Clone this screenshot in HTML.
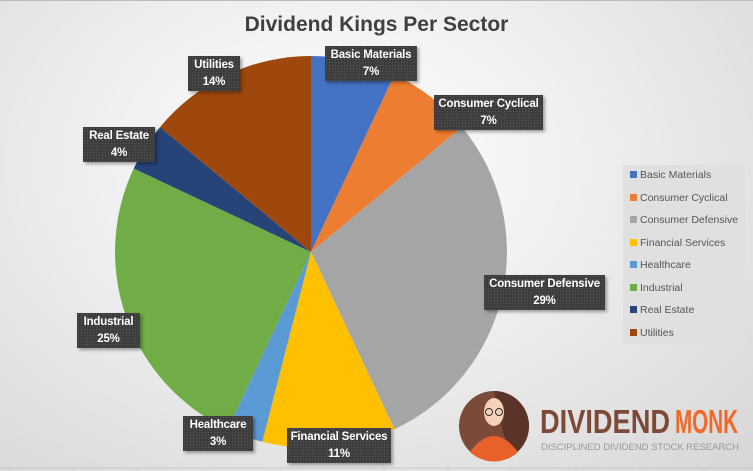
<!DOCTYPE html>
<html><head><meta charset="utf-8"><style>
html,body{margin:0;padding:0}
body{width:753px;height:471px;overflow:hidden;position:relative;font-family:"Liberation Sans",sans-serif;
background:radial-gradient(ellipse at 45% 35%,#ffffff 0%,#f0f0f0 40%,#d6d6d6 100%)}
.lbl{position:absolute;background:#3d3d3d;background-image:radial-gradient(#555 0.6px,transparent 0.8px);background-size:3px 3px;color:#fff;font-weight:bold;font-size:11.5px;letter-spacing:-0.2px;line-height:16.5px;text-align:center;box-shadow:2px 2px 3px rgba(0,0,0,.35);padding:1px 0}
.leg{position:absolute;left:623px;top:165px;width:122px;height:179px;background:#e0e0e0}
.it{position:absolute;left:7px;font-size:10.5px;color:#555;white-space:nowrap}
.it i{display:inline-block;width:7px;height:7px;margin-right:3px;vertical-align:0px}
</style></head><body>
<div style="position:absolute;left:0;top:0;width:753px;height:1px;background:#bbb"></div>
<div style="position:absolute;left:0;top:13px;width:753px;text-align:center;font-size:21px;font-weight:bold;color:#404040">Dividend Kings Per Sector</div>
<svg width="753" height="471" style="position:absolute;left:0;top:0" viewBox="0 0 753 471">
<g id="pie"></g>
<line x1="0" y1="468" x2="753" y2="468" stroke="#c8c8c8"/>
<g stroke="#c8c8c8"><line x1="10" y1="468" x2="10" y2="471"/><line x1="74" y1="468" x2="74" y2="471"/><line x1="138" y1="468" x2="138" y2="471"/><line x1="384" y1="468" x2="384" y2="471"/><line x1="448" y1="468" x2="448" y2="471"/><line x1="512" y1="468" x2="512" y2="471"/><line x1="576" y1="468" x2="576" y2="471"/><line x1="640" y1="468" x2="640" y2="471"/><line x1="704" y1="468" x2="704" y2="471"/></g>
<circle cx="494" cy="426" r="35" fill="#7b4a38"/>
<path d="M494 391 A35 35 0 0 1 529 426 A35 35 0 0 1 510 457 L500 420 Z" fill="#5c3328"/>
<path d="M470 452 Q494 420 518 452 A35 35 0 0 1 470 452Z" fill="#e8612a"/>
<ellipse cx="494" cy="412" rx="10" ry="14" fill="#f4d2b8"/>
<circle cx="489" cy="412" r="3.5" fill="none" stroke="#333" stroke-width="1"/><circle cx="499" cy="412" r="3.5" fill="none" stroke="#333" stroke-width="1"/>
<text x="540" y="433" font-family="Liberation Sans Narrow,Liberation Sans,sans-serif" font-size="33" font-weight="bold" fill="#7b4a38" textLength="130" lengthAdjust="spacingAndGlyphs">DIVIDEND</text>
<text x="675" y="433" font-family="Liberation Sans Narrow,Liberation Sans,sans-serif" font-size="33" font-weight="bold" fill="#ef6a2a" textLength="63" lengthAdjust="spacingAndGlyphs">MONK</text>
<text x="541" y="450" font-family="Liberation Sans,sans-serif" font-size="9" fill="#999" textLength="198" lengthAdjust="spacingAndGlyphs">DISCIPLINED DIVIDEND STOCK RESEARCH</text>
</svg>
<script>
var d=[[7,"#4472c4"],[7,"#ed7d31"],[29,"#a5a5a5"],[11,"#ffc000"],[3,"#5b9bd5"],[25,"#70ad47"],[4,"#264478"],[14,"#9e480e"]];
var cx=311,cy=252,r=196,a=0,s="";
d.forEach(function(e){var b=a+e[0]*3.6;function p(t){t=t*Math.PI/180;return (cx+r*Math.sin(t)).toFixed(1)+" "+(cy-r*Math.cos(t)).toFixed(1);}
s+='<path d="M'+cx+' '+cy+' L'+p(a)+' A'+r+' '+r+' 0 '+(b-a>180?1:0)+' 1 '+p(b)+' Z" fill="'+e[1]+'"/>';a=b;});
document.getElementById("pie").innerHTML=s;
</script>
<div class="lbl" style="left:325px;top:46px;width:92px">Basic Materials<br>7%</div>
<div class="lbl" style="left:434px;top:95px;width:109px">Consumer Cyclical<br>7%</div>
<div class="lbl" style="left:484px;top:275px;width:121px">Consumer Defensive<br>29%</div>
<div class="lbl" style="left:287px;top:428px;width:104px">Financial Services<br>11%</div>
<div class="lbl" style="left:183px;top:416px;width:70px">Healthcare<br>3%</div>
<div class="lbl" style="left:77px;top:313px;width:63px">Industrial<br>25%</div>
<div class="lbl" style="left:83px;top:127px;width:72px">Real Estate<br>4%</div>
<div class="lbl" style="left:188px;top:56px;width:52px">Utilities<br>14%</div>
<div class="leg">
<div class="it" style="top:4px"><i style="background:#4472c4"></i>Basic Materials</div>
<div class="it" style="top:27px"><i style="background:#ed7d31"></i>Consumer Cyclical</div>
<div class="it" style="top:49px"><i style="background:#a5a5a5"></i>Consumer Defensive</div>
<div class="it" style="top:72px"><i style="background:#ffc000"></i>Financial Services</div>
<div class="it" style="top:94px"><i style="background:#5b9bd5"></i>Healthcare</div>
<div class="it" style="top:117px"><i style="background:#70ad47"></i>Industrial</div>
<div class="it" style="top:139px"><i style="background:#264478"></i>Real Estate</div>
<div class="it" style="top:162px"><i style="background:#9e480e"></i>Utilities</div>
</div>
</body></html>
